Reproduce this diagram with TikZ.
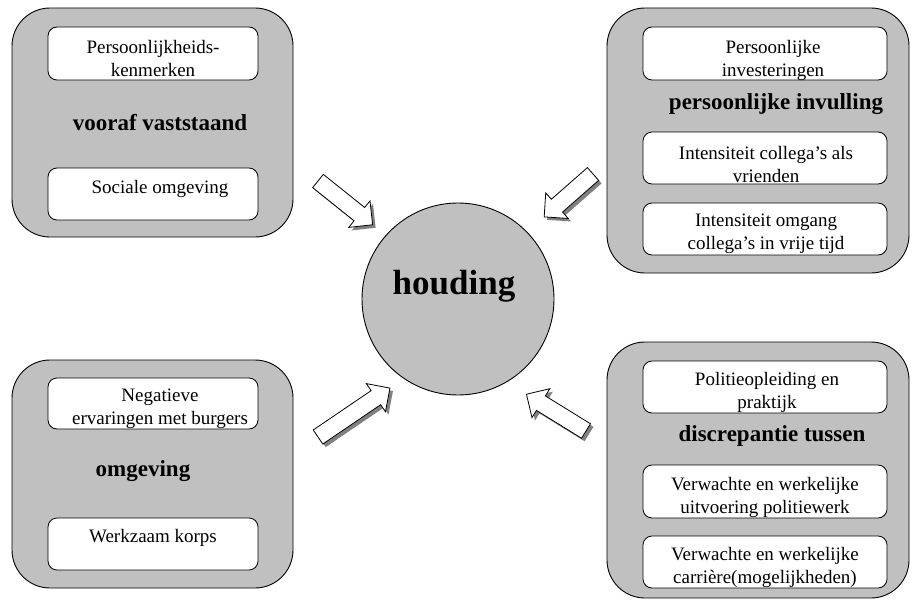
\documentclass[tikz,border=0pt]{standalone}
\usepackage{fontspec}
\setmainfont{LiberationSerif}[Extension=.ttf, UprightFont=*-Regular, BoldFont=*-Bold, ItalicFont=*-Italic, BoldItalicFont=*-BoldItalic]
\definecolor{boxgray}{HTML}{C0C0C0}
\definecolor{shadowgray}{HTML}{808080}
\tikzset{
  bigbox/.style={draw=black, line width=0.9pt, fill=boxgray, rounded corners=38pt},
  innerbox/.style={draw=black, line width=0.8pt, fill=white, rounded corners=9pt},
  smalltxt/.style={align=center, inner sep=0pt, font=\rmfamily\fontsize{19}{23}\selectfont},
  headtxt/.style={inner sep=0pt, font=\rmfamily\fontsize{23}{27}\selectfont\bfseries},
  arrowbody/.style={draw=black, line width=0.8pt, fill=white, line join=miter},
  arrowshade/.style={fill=shadowgray},
}
% #1,#2 tail centre, #3 angle, #4 length
\newcommand\myblockarrow[4]{%
  \begin{scope}[shift={(#1+3,#2+3)}, rotate=#3]
    \path[arrowshade] (0,-8.5) -- (#4-17,-8.5) -- (#4-17,-17) -- (#4,0) -- (#4-17,17) -- (#4-17,8.5) -- (0,8.5) -- cycle;
  \end{scope}
  \begin{scope}[shift={(#1,#2)}, rotate=#3]
    \path[arrowbody] (0,-8.5) -- (#4-17,-8.5) -- (#4-17,-17) -- (#4,0) -- (#4-17,17) -- (#4-17,8.5) -- (0,8.5) -- cycle;
  \end{scope}}
\begin{document}
\begin{tikzpicture}[x=1pt, y=-1pt]
\useasboundingbox (0,0) rectangle (912,602);

% big boxes
\draw[bigbox] (12,8) rectangle (293,237);
\draw[bigbox] (607,8) rectangle (909,273);
\draw[bigbox] (12,360) rectangle (293,588);
\draw[bigbox] (607,342) rectangle (909,598);

% top-left
\draw[innerbox] (48,27) rectangle (258,80);
\node[smalltxt] (tl1) at (153,59) {Persoonlijkheids-\\kenmerken};
\node[headtxt] (tlh) at (160,123) {vooraf vaststaand};
\draw[innerbox] (48,168) rectangle (258,220);
\node[smalltxt] (tl2) at (160,189) {Sociale omgeving};

% top-right
\draw[innerbox] (643,27) rectangle (887,80);
\node[smalltxt] (tr1) at (773,60) {Persoonlijke\\investeringen};
\node[headtxt] (trh) at (776,104) {persoonlijke invulling};
\draw[innerbox] (643,132) rectangle (887,184);
\node[smalltxt] (tr2) at (766,164) {Intensiteit collega's als\\vrienden};
\draw[innerbox] (643,203) rectangle (887,255);
\node[smalltxt] (tr3) at (766,234) {Intensiteit omgang\\collega's in vrije tijd};

% bottom-left
\draw[innerbox] (48,378) rectangle (258,429);
\node[smalltxt] (bl1) at (160,409) {Negatieve\\ervaringen met burgers};
\node[headtxt] (blh) at (143,471) {omgeving};
\draw[innerbox] (48,518) rectangle (258,570);
\node[smalltxt] (bl2) at (153,538) {Werkzaam korps};

% bottom-right
\draw[innerbox] (643,361) rectangle (887,413);
\node[smalltxt] (br1) at (767,392) {Politieopleiding en\\praktijk};
\node[headtxt] (brh) at (772,436) {discrepantie tussen};
\draw[innerbox] (643,465) rectangle (887,518);
\node[smalltxt] (br2) at (765,497) {Verwachte en werkelijke\\uitvoering politiewerk};
\draw[innerbox] (643,536) rectangle (887,588);
\node[smalltxt] (br3) at (765,567) {Verwachte en werkelijke\\carri\`ere(mogelijkheden)};

% circle
\node[circle, draw=black, line width=0.9pt, fill=boxgray, minimum size=192pt, inner sep=0pt] (c) at (458,299) {};
\node[inner sep=0pt, font=\rmfamily\fontsize{35}{40}\selectfont\bfseries] (hd) at (454,286) {houding};

% block arrows with shadows
\myblockarrow{318}{181}{-38.7}{70}
\myblockarrow{593}{174}{-138.7}{65}
\myblockarrow{318}{437}{34.2}{87}
\myblockarrow{586}{431}{148.3}{70}
\end{tikzpicture}
\end{document}
